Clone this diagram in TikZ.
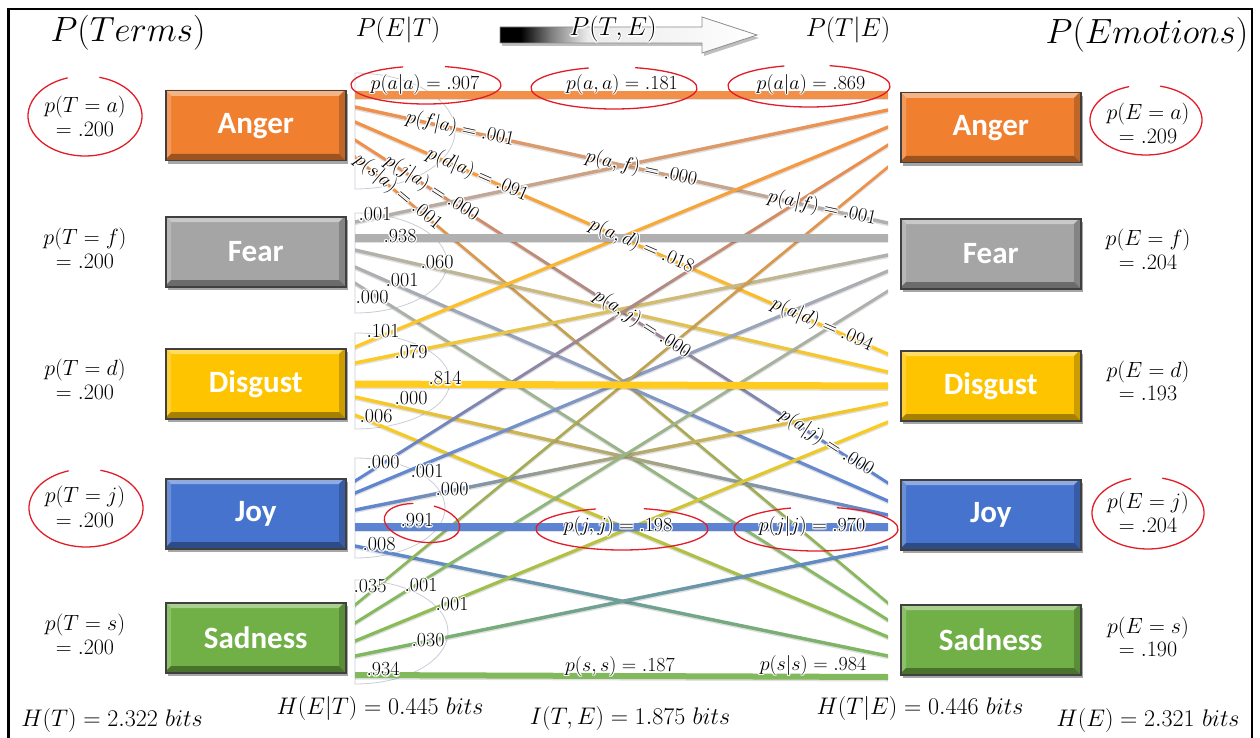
\RequirePackage{fix-cm}
\documentclass[tikz,border=0pt]{standalone}
\usepackage{fontspec}
\setsansfont{Carlito}
\usepackage[copies]{contour}
\contourlength{1.3pt}
\contournumber{12}
\definecolor{cA}{RGB}{240,128,48}
\definecolor{cF}{RGB}{165,165,165}
\definecolor{cD}{RGB}{255,196,0}
\definecolor{cJ}{RGB}{70,115,205}
\definecolor{cS}{RGB}{112,176,70}
\definecolor{hand}{RGB}{225,30,40}
\definecolor{faint}{RGB}{200,206,216}
\pgfdeclarehorizontalshading{arrowshade}{100bp}{color(0bp)=(black); color(29bp)=(black); color(35bp)=(black!50); color(42bp)=(white!92!black); color(75bp)=(white); color(100bp)=(white)}
\tikzset{
 lab/.style={font=\fontsize{20}{22}\selectfont, inner sep=0pt},
 big/.style={font=\fontsize{35}{40}\selectfont, inner sep=0pt},
 mid/.style={font=\fontsize{26}{30}\selectfont, inner sep=0pt},
 bot/.style={font=\fontsize{24}{28}\selectfont, inner sep=0pt},
 prob/.style={font=\fontsize{22}{25}\selectfont, inner sep=0pt},
 handc/.style={draw=hand, line width=1.3pt, line cap=round},
 faintc/.style={draw=faint, line width=0.8pt},
 boxtext/.style={font=\sffamily\bfseries\fontsize{31}{33}\selectfont, text=white},
}
\newcommand\gw[1]{\contour{white}{#1}}
\newcommand\emobox[5]{%
 \fill[black, opacity=.35] (#2+3,#3+4) rectangle (#2+183,#3+74);
 \fill[#4] (#2,#3) rectangle (#2+180,#3+70);
 \fill[#4!60!white] (#2,#3) -- (#2+180,#3) -- (#2+174,#3+6) -- (#2+6,#3+6) -- cycle;
 \fill[#4!80!white] (#2,#3) -- (#2+6,#3+6) -- (#2+6,#3+64) -- (#2,#3+70) -- cycle;
 \fill[#4!80!black] (#2+180,#3) -- (#2+174,#3+6) -- (#2+174,#3+64) -- (#2+180,#3+70) -- cycle;
 \fill[#4!65!black] (#2,#3+70) -- (#2+6,#3+64) -- (#2+174,#3+64) -- (#2+180,#3+70) -- cycle;
 \node[draw=black!75, line width=1.5pt, minimum width=180pt, minimum height=70pt, inner sep=0pt, anchor=north west] (#1) at (#2,#3) {};
 \node[boxtext] at (#1.center) {#5};
}
\newcommand\gl[5]{%
 \fill[black, opacity=.12] (355,{#1-#5/2+1.5}) -- (888,{#2-#5/2+1.5}) -- (888,{#2+#5/2+1.5}) -- (355,{#1+#5/2+1.5}) -- cycle;
 \shade[left color=#3!88!white, right color=#4!88!white] (355,{#1-#5/2}) -- (888,{#2-#5/2}) -- (888,{#2+#5/2}) -- (355,{#1+#5/2}) -- cycle;
}
\newcommand\handring[5]{%
 \draw[handc, rotate around={#5:(#1,#2)}] (#1,#2) ++(-75:#3 and #4) arc[start angle=-75, end angle=252, x radius=#3, y radius=#4];
}
\newcommand\dshape[4]{%
 \draw[faintc] (#1,{#2-#4}) arc[start angle=-90, end angle=90, x radius=#3, y radius=#4] -- cycle;
}
\begin{document}
\begin{tikzpicture}[x=1pt,y=-1pt]
\useasboundingbox (0,0) rectangle (1260,738);
\fill[white] (0,0) rectangle (1260,738);
\draw[line width=2.5pt] (8.5,742) -- (8.5,9) -- (1252,9) -- (1252,742);

% faint fan arcs
\dshape{355}{131}{100}{58}
\dshape{355}{263}{92}{50}
\dshape{355}{381}{95}{48}
\dshape{355}{508}{90}{50}
\dshape{355}{632}{93}{52}

% thin connectors (gradient from source to target colour)
\gl{107}{223}{cA}{cF}{3.5}
\gl{122}{354}{cA}{cD}{3.5}
\gl{140}{483}{cA}{cJ}{3.5}
\gl{157}{603}{cA}{cS}{3.5}
\gl{222}{110}{cF}{cA}{3.5}
\gl{250}{372}{cF}{cD}{3.5}
\gl{267}{501}{cF}{cJ}{3.5}
\gl{283}{620}{cF}{cS}{3.5}
\gl{347}{127}{cD}{cA}{3.5}
\gl{363}{255}{cD}{cF}{3.5}
\gl{397}{515}{cD}{cJ}{3.5}
\gl{415}{637}{cD}{cS}{3.5}
\gl{481}{145}{cJ}{cA}{3.5}
\gl{493}{271}{cJ}{cF}{3.5}
\gl{510}{403}{cJ}{cD}{3.5}
\gl{546}{656}{cJ}{cS}{3.5}
\gl{605}{167}{cS}{cA}{3.5}
\gl{623}{291}{cS}{cF}{3.5}
\gl{641}{422}{cS}{cD}{3.5}
\gl{656}{547}{cS}{cJ}{3.5}
% thick connectors
\gl{95}{95}{cA}{cA}{7}
\gl{238}{238}{cF}{cF}{7}
\gl{384}{386}{cD}{cD}{7}
\gl{527}{527}{cJ}{cJ}{7}
\gl{675}{677}{cS}{cS}{6}

% boxes
\emobox{lA}{165}{90}{cA}{Anger}
\emobox{lF}{165}{216}{cF}{Fear}
\emobox{lD}{165}{348}{cD}{Disgust}
\emobox{lJ}{165}{478}{cJ}{Joy}
\emobox{lS}{165}{602}{cS}{Sadness}
\emobox{rA}{900}{92}{cA}{Anger}
\emobox{rF}{900}{218}{cF}{Fear}
\emobox{rD}{900}{350}{cD}{Disgust}
\emobox{rJ}{900}{479}{cJ}{Joy}
\emobox{rS}{900}{604}{cS}{Sadness}

% sloped labels on the Anger lines
\path (355,107) -- (888,223) node[lab, sloped, pos=0.197] (l1) {\gw{$p(f|a) = .001$}}
                             node[lab, sloped, pos=0.537] (l2) {\gw{$p(a,f) = .000$}}
                             node[lab, sloped, pos=0.876] (l3) {\gw{$p(a|f) = .001$}};
\path (355,122) -- (888,354) node[lab, sloped, pos=0.229] (l4) {\gw{$p(d|a) = .091$}}
                             node[lab, sloped, pos=0.537] (l5) {\gw{$p(a,d) = .018$}}
                             node[lab, sloped, pos=0.876] (l6) {\gw{$p(a|d) = .094$}};
\path (355,140) -- (888,483) node[lab, sloped, pos=0.143] (l7) {\gw{$p(j|a) = .000$}}
                             node[lab, sloped, pos=0.538] (l8) {\gw{$p(a,j) = .000$}}
                             node[lab, sloped, pos=0.884] (l9) {\gw{$p(a|j) = .000$}};
\path (355,157) -- (888,603) node[lab, sloped, pos=0.080] (l10) {\gw{$p(s|a) = .001$}};

% horizontal labels
\node[lab] (haa1) at (425,85) {\gw{$p(a|a) = .907$}};
\node[lab] (haa2) at (622,85) {\gw{$p(a,a) = .181$}};
\node[lab] (haa3) at (811,85) {\gw{$p(a|a) = .869$}};
\node[lab] (hjj2) at (618,527) {\gw{$p(j,j) = .198$}};
\node[lab] (hjj3) at (812,527) {\gw{$p(j|j) = .970$}};
\node[lab] (hss2) at (620,667) {\gw{$p(s,s) = .187$}};
\node[lab] (hss3) at (813,666) {\gw{$p(s|s) = .984$}};

% fan numbers
\node[lab] at (375,215) {\gw{$.001$}};
\node[lab] at (400,237) {\gw{$.938$}};
\node[lab] at (437,263) {\gw{$.060$}};
\node[lab] at (402,281) {\gw{$.001$}};
\node[lab] at (372,298) {\gw{$.000$}};
\node[lab] at (383,332) {\gw{$.101$}};
\node[lab] at (411,353) {\gw{$.079$}};
\node[lab] at (445,379) {\gw{$.814$}};
\node[lab] at (411,399) {\gw{$.000$}};
\node[lab] at (376,417) {\gw{$.006$}};
\node[lab] at (383,463) {\gw{$.000$}};
\node[lab] at (427,472) {\gw{$.001$}};
\node[lab] at (452,490) {\gw{$.000$}};
\node[lab] at (417,521) {\gw{$.991$}};
\node[lab] at (379,545) {\gw{$.008$}};
\node[lab] at (370,587) {\gw{$.035$}};
\node[lab] at (421,586) {\gw{$.001$}};
\node[lab] at (452,605) {\gw{$.001$}};
\node[lab] at (428,641) {\gw{$.030$}};
\node[lab] at (383,670) {\gw{$.934$}};

% marginal probabilities
\node[prob] (pTa) at (85,107) {$p(T = a)$};  \node[prob] at (85,129) {$= .200$};
\node[prob] (pTf) at (85,239) {$p(T = f)$};  \node[prob] at (85,261) {$= .200$};
\node[prob] (pTd) at (85,370) {$p(T = d)$};  \node[prob] at (85,392) {$= .200$};
\node[prob] (pTj) at (85,497) {$p(T = j)$};  \node[prob] at (85,520) {$= .200$};
\node[prob] (pTs) at (85,625) {$p(T = s)$};  \node[prob] at (85,647) {$= .200$};
\node[prob] (pEa) at (1148,114) {$p(E = a)$}; \node[prob] at (1148,136) {$= .209$};
\node[prob] (pEf) at (1148,240) {$p(E = f)$}; \node[prob] at (1148,262) {$= .204$};
\node[prob] (pEd) at (1148,372) {$p(E = d)$}; \node[prob] at (1148,393) {$= .193$};
\node[prob] (pEj) at (1148,503) {$p(E = j)$}; \node[prob] at (1148,525) {$= .204$};
\node[prob] (pEs) at (1148,628) {$p(E = s)$}; \node[prob] at (1148,649) {$= .190$};

% hand-drawn red rings
\handring{85}{116}{57}{40}{0}
\handring{86}{508}{57}{39}{0}
\handring{1146}{120}{56}{35}{0}
\handring{1148}{513}{56}{36}{0}
\handring{426}{85}{75}{19}{0}
\handring{614}{88}{83}{21}{0}
\handring{809}{86}{81}{21}{0}
\handring{422}{523}{38}{19}{-8}
\handring{622}{529}{86}{21}{0}
\handring{816}{529}{82}{22}{0}

% arrow
\fill[black, opacity=.25] (502,30) -- (704,30) -- (704,20) -- (759,38) -- (704,56) -- (704,46) -- (502,46) -- cycle;
\shade[shading=arrowshade, draw=black!45, line width=0.8pt] (500,27) -- (702,27) -- (702,17) -- (757,35) -- (702,53) -- (702,43) -- (500,43) -- cycle;

% titles
\node[big] (tT) at (128,33) {$P(Terms)$};
\node[mid] (tET) at (398,30) {$P(E|T)$};
\node[mid] (tTE) at (613,30) {\gw{$P(T,E)$}};
\node[mid] (tTgE) at (848,30) {$P(T|E)$};
\node[big] (tE) at (1147,35) {$P(Emotions)$};

% bottom measures
\node[bot] at (112,720) {$H(T) = 2.322\ bits$};
\node[bot] at (380,708) {$H(E|T) = 0.445\ bits$};
\node[bot] at (630,718) {$I(T,E) = 1.875\ bits$};
\node[bot] at (920,708) {$H(T|E) = 0.446\ bits$};
\node[bot] at (1148,720) {$H(E) = 2.321\ bits$};
\end{tikzpicture}
\end{document}
